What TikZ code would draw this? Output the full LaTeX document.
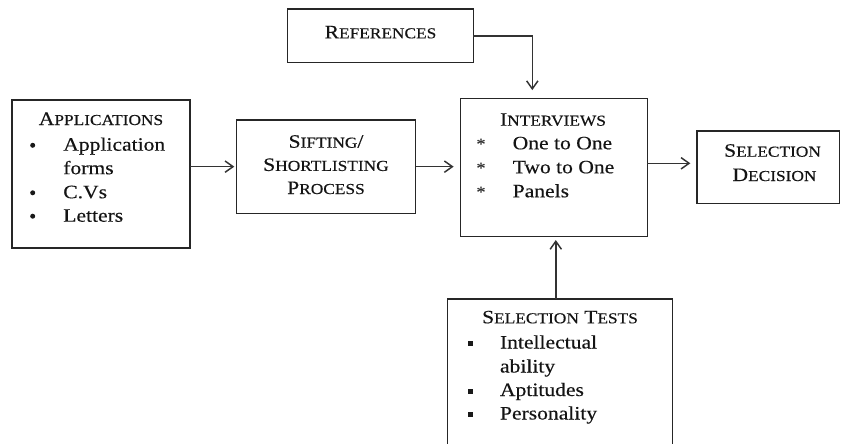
\documentclass[tikz,border=0pt]{standalone}
\usepackage{fontspec}
\setmainfont{Liberation Serif}[FakeStretch=1.14,FakeBold=0.35]
\usetikzlibrary{arrows.meta,fit,calc}
\newcommand{\Fsc}[2]{#1{\fontsize{11.4pt}{12pt}\selectfont #2}}
\begin{document}
\begin{tikzpicture}[x=0.75pt,y=-0.75pt,
  box/.style={draw=black!85,line width=1.1pt,inner sep=0pt,outer sep=0pt,rectangle},
  txt/.style={inner sep=0pt,outer sep=0pt,font=\fontsize{14.2pt}{18pt}\selectfont,text=black!92},
  star/.style={inner sep=0pt,outer sep=0pt,font=\fontsize{12pt}{12pt}\selectfont,text=black!80},
  conn/.style={draw=black!80,line width=1.1pt,-{Straight Barb[length=6pt,width=8.5pt,line width=1.1pt]}},
  dotb/.style={fill=black!90}]
\useasboundingbox (0,0) rectangle (843,443);
\clip (0,0) rectangle (843,443);

% boxes
\node[box,fit={(12,100) (190,248)}] (app) {};
\node[box,fit={(236.7,120) (415.7,213.3)}] (sift) {};
\node[box,fit={(287.3,9) (473.3,62.7)}] (ref) {};
\node[box,fit={(460.3,98.5) (647.3,236.7)}] (int) {};
\node[box,fit={(697,131) (839.5,203.3)}] (dec) {};
\node[box,fit={(447.3,299) (672.3,460)}] (tests) {};

% Applications
\node[txt,anchor=base] (apptitle) at (101,125) {\Fsc{A}{PPLICATIONS}};
\node[txt,anchor=base west] (a1) at (63.3,150.7) {Application};
\node[txt,anchor=base west] (a2) at (63.3,174.2) {forms};
\node[txt,anchor=base west] (a3) at (63.3,198.2) {C.Vs};
\node[txt,anchor=base west] (a4) at (63.3,221.7) {Letters};
\fill[dotb] (32.7,145.3) circle (2.5);
\fill[dotb] (32.7,192.8) circle (2.5);
\fill[dotb] (32.7,216.2) circle (2.5);

% Sifting
\node[txt,anchor=base] (s1) at (326,147.7) {\Fsc{S}{IFTING}/};
\node[txt,anchor=base] (s2) at (326,170.9) {\Fsc{S}{HORTLISTING}};
\node[txt,anchor=base] (s3) at (326,194) {\Fsc{P}{ROCESS}};

% References
\node[txt,anchor=base] (r1) at (380.5,38.3) {\Fsc{R}{EFERENCES}};

% Interviews
\node[txt,anchor=base] (ititle) at (553,125.7) {\Fsc{I}{NTERVIEWS}};
\node[txt,anchor=base west] (i1) at (512.7,149.3) {One to One};
\node[txt,anchor=base west] (i2) at (512.7,173.3) {Two to One};
\node[txt,anchor=base west] (i3) at (512.7,197.3) {Panels};
\node[star] (st1) at (481,144) {*};
\node[star] (st2) at (481,168) {*};
\node[star] (st3) at (481,192) {*};

% Decision
\node[txt,anchor=base] (d1) at (772.5,156.7) {\Fsc{S}{ELECTION}};
\node[txt,anchor=base] (d2) at (774.5,181) {\Fsc{D}{ECISION}};

% Selection tests
\node[txt,anchor=base] (ttitle) at (560,323.3) {\Fsc{S}{ELECTION} \Fsc{T}{ESTS}};
\node[txt,anchor=base west] (t1) at (500,348.5) {Intellectual};
\node[txt,anchor=base west] (t2) at (500,372.5) {ability};
\node[txt,anchor=base west] (t3) at (500,396) {Aptitudes};
\node[txt,anchor=base west] (t4) at (500,419.5) {Personality};
\fill[dotb] (467.5,341) rectangle (472.5,346);
\fill[dotb] (467.5,388.5) rectangle (472.5,393.5);
\fill[dotb] (467.5,412) rectangle (472.5,417);

% connectors
\draw[conn,shorten >=1.8pt] (sift.west -| app.east) -- (sift.west);
\draw[conn,shorten >=5pt] (sift.east) -- (sift.east -| int.west);
\draw[conn,shorten >=5pt] ($(int.east)+(0,-4.3)$) -- ($(int.east -| dec.west)+(0,-4.3)$);
\draw[conn,shorten >=6.3pt] (ref.east) -| ($(int.north)+(-21.5,0)$);
\coordinate (tn) at ($(tests.north)+(-4,0)$);
\draw[conn,shorten >=2.5pt] (tn) -- (tn |- int.south);
\end{tikzpicture}
\end{document}
